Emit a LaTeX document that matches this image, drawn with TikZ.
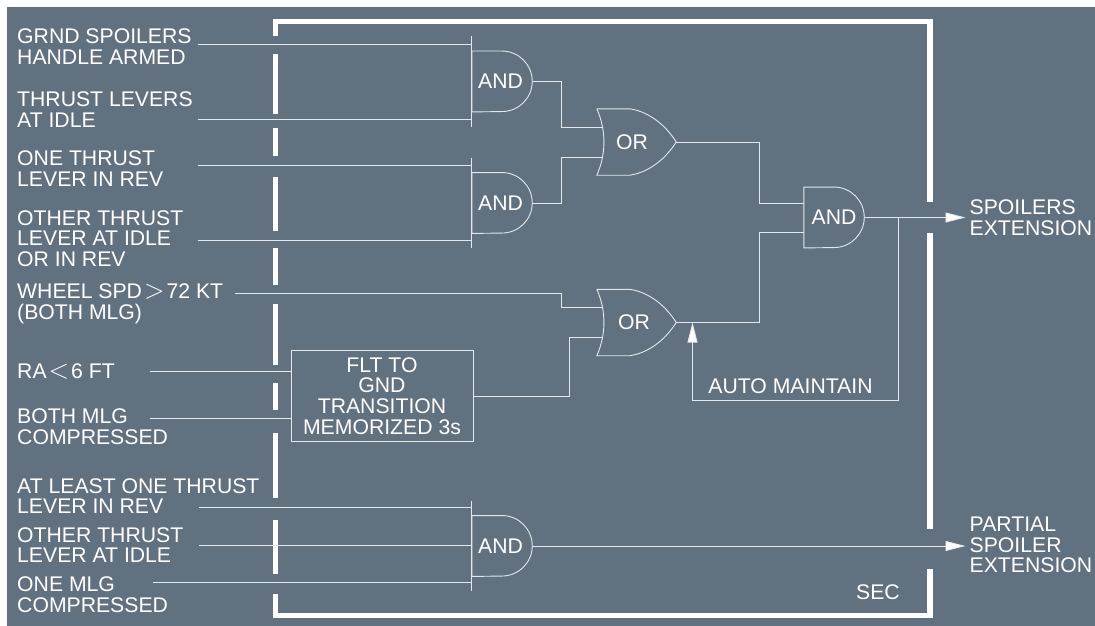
\documentclass[tikz,border=0pt]{standalone}
\usepackage{fontspec}
\usepackage{graphicx}
\setmainfont{Liberation Sans}
\usetikzlibrary{arrows.meta,calc}
\definecolor{panelgrey}{RGB}{98,113,127}
\definecolor{linegrey}{RGB}{228,232,236}

\begin{document}
\begin{tikzpicture}[
  x=1pt,y=-1pt,
  txt/.style={font=\fontsize{21.2}{20.7}\selectfont,text=white},
  lbl/.style={txt,anchor=west,align=left,inner sep=0pt},
  res/.style={txt,anchor=west,align=left,inner sep=4pt},
  wire/.style={draw=linegrey,line width=0.9pt},
  arr/.style={wire,-{Triangle[length=20pt,width=10pt,fill=white]}},
  frm/.style={draw=white,line width=5.5pt},
  memo/.style={txt,wire,minimum width=182pt,minimum height=90.5pt,
               inner sep=0pt,align=center},
  andg/.style={txt,minimum width=60pt,minimum height=60.5pt,inner sep=0pt,
    append after command={\pgfextra{\let\LN\tikzlastnode
      \draw[wire] (\LN.north west) -- (\LN.north)
        arc[start angle=90,end angle=-90,radius=30.25pt]
        -- (\LN.south west) -- cycle;}}},
  andb/.style={andg,
    append after command={\pgfextra{\let\LN\tikzlastnode
      \draw[wire] ($(\LN.west)+(0,-45)$) -- ($(\LN.west)+(0,45)$);}}},
  org/.style={txt,minimum width=79pt,minimum height=66pt,inner sep=0pt,
    append after command={\pgfextra{\let\LN\tikzlastnode
      \draw[wire] (\LN.north west) -- ++(33,0)
        .. controls +(20,3) and ($(\LN.east)+(-10,-16)$) .. (\LN.east)
        .. controls ($(\LN.east)+(-10,16)$) and ($(\LN.south west)+(53,-3)$)
        .. ($(\LN.south west)+(33,0)$) -- (\LN.south west)
        .. controls ($(\LN.west)+(9.5,12)$) and ($(\LN.west)+(9.5,-12)$)
        .. (\LN.north west);
      \coordinate (\LN-a) at ($(\LN.west)+(5,-15)$);
      \coordinate (\LN-b) at ($(\LN.west)+(5,15)$);}}}
]
\useasboundingbox (0,0) rectangle (1095,626);
\fill[panelgrey] (7,7) rectangle (1095,626);

% SEC frame
\draw[frm] (275.5,36) |- (930,21.5) -- (930,201.5);
\draw[frm] (930,233) -- (930,529);
\draw[frm] (930,569) |- (275.5,615.5) -- (275.5,594);
\foreach \a/\b in {54/114,128/156,177/231,248/285,304/365,383/410,433/498,520/574}
  \draw[frm] (275.5,\a) -- (275.5,\b);

% inputs
\node[lbl] (armed)  at (17,46.5)  {GRND SPOILERS\\HANDLE ARMED};
\node[lbl] (idle)   at (17,109.5) {THRUST LEVERS\\AT IDLE};
\node[lbl] (rev)    at (17,168.5) {ONE THRUST\\LEVER IN REV};
\node[lbl] (other)  at (17,238.5) {OTHER THRUST\\LEVER AT IDLE\\OR IN REV};
\node[lbl] (wheel)  at (17,303.5) {WHEEL SPD\kern2pt\scalebox{1.3}{$>$}\kern2pt72 KT\\(BOTH MLG)};
\node[lbl] (ra)     at (17,371)   {RA\kern2pt\scalebox{1.3}{$<$}\kern2pt6 FT};
\node[lbl] (mlg)    at (17,427)   {BOTH MLG\\COMPRESSED};
\node[lbl] (least)  at (17,496)   {AT LEAST ONE THRUST\\LEVER IN REV};
\node[lbl] (oidle)  at (17,545)   {OTHER THRUST\\LEVER AT IDLE};
\node[lbl] (onemlg) at (17,595)   {ONE MLG\\COMPRESSED};

% gates
\node[andb] (and1) at (502,81.5)  {AND\kern3pt};
\node[andb] (and2) at (502,203)   {AND\kern3pt};
\node[andg] (and3) at (834,217.5) {AND};
\node[andb] (and4) at (502,546)   {AND\kern3pt};
\node[org]  (or1)  at (636.5,142) {OR\kern9pt};
\node[org]  (or2)  at (636.5,322.5) {OR\kern5pt};
\node[memo] (mem)  at (382,396) {FLT TO\\GND\\TRANSITION\\MEMORIZED 3s};

% outputs
\node[res] (spoil) at (965.5,217.5) {SPOILERS\\EXTENSION};
\node[res] (part)  at (965.5,545)   {PARTIAL\\SPOILER\\EXTENSION};
\node[txt] (auto)  at (790.5,386) {AUTO MAINTAIN};
\node[txt] (sec)   at (878,592)   {SEC};

\coordinate (s1) at (198,44.5);
\coordinate (s2) at (198,119);
\coordinate (s3) at (198,165);
\coordinate (s4) at (198,240);
\coordinate (s5) at (235,293);
\coordinate (s6) at (150,371);
\coordinate (s7) at (150,418);
\coordinate (s8) at (199,507.5);
\coordinate (s9) at (199,545);
\coordinate (s10) at (153,582.5);
\coordinate (fb) at (898,217.5);
\coordinate (am) at (692.5,400);

\draw[wire] (s1) -- (s1 -| and1.west);
\draw[wire] (s2) -- (s2 -| and1.west);
\draw[wire] (s3) -- (s3 -| and2.west);
\draw[wire] (s4) -- (s4 -| and2.west);
\draw[wire] (s6) -- (s6 -| mem.west);
\draw[wire] (s7) -- (s7 -| mem.west);
\draw[wire] (s8) -- (s8 -| and4.west);
\draw[wire] (s9) -- (s9 -| and4.west);
\draw[wire] (s10) -- (s10 -| and4.west);
\draw[wire] (s5) -- ++(326,0) |- (or2-a);
\draw[wire] (and1.east) -- ++(29,0) |- (or1-a);
\draw[wire] (and2.east) -- ++(29,0) |- (or1-b);
\draw[wire] (mem.east) -- ++(96,0) |- (or2-b);
\draw[wire] (or1.east) -- ++(83,0) |- ($(and3.west)+(0,-14.5)$);
\draw[wire] (or2.east) -- ++(83,0) |- ($(and3.west)+(0,14.5)$);
\draw[arr] (and3.east) -- (and3.east -| spoil.west);
\draw[arr] (and4.east) -- (and4.east -| part.west);
\draw[arr] (fb) |- (am) -- (am |- or2.east);
\end{tikzpicture}
\end{document}
